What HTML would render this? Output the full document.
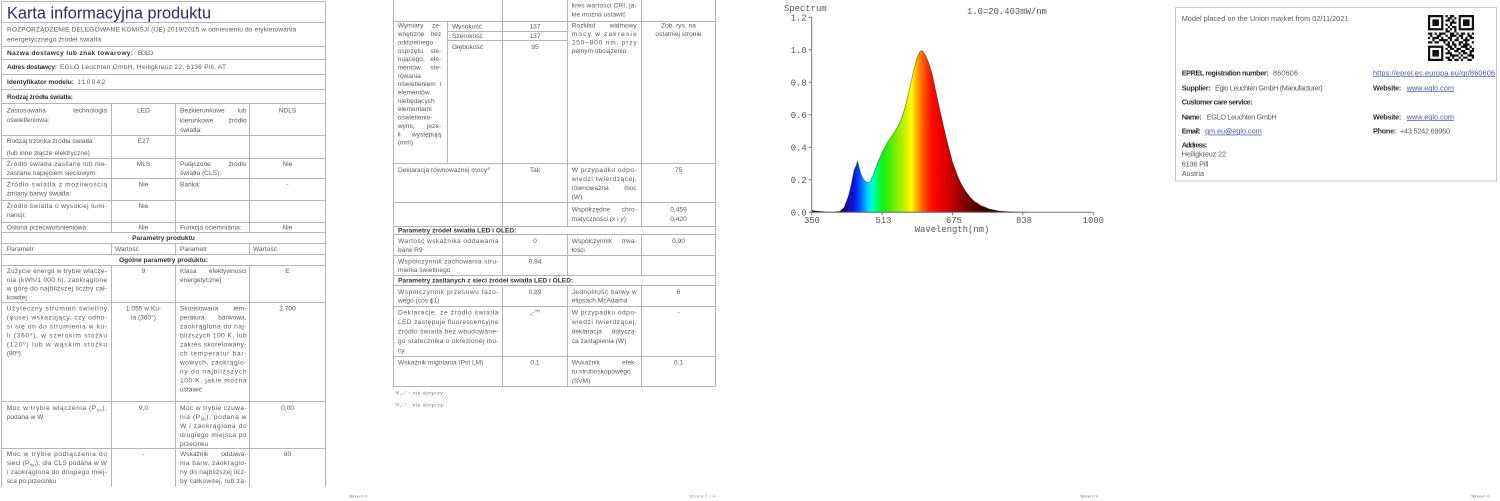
<!DOCTYPE html>
<html><head><meta charset="utf-8">
<style>
html,body{margin:0;padding:0;background:#fff;}
body{width:1500px;height:501px;overflow:hidden;}
svg{display:block;}
.n{font-family:"Liberation Sans",sans-serif;font-size:6.6px;fill:#5a5a5a;}
.b{font-family:"Liberation Sans",sans-serif;font-size:6.6px;fill:#333;font-weight:bold;}
.c{text-anchor:middle;}
.e{text-anchor:end;}
.m{font-family:"Liberation Mono",monospace;font-size:8.9px;fill:#555;}
.q{font-family:"Liberation Sans",sans-serif;font-size:7.3px;fill:#5a5a5a;}
.qb{font-family:"Liberation Sans",sans-serif;font-size:7.3px;fill:#333;font-weight:bold;}
.lk{fill:#4a55a0;text-decoration:underline;}
.s{font-family:"Liberation Sans",sans-serif;font-size:4px;fill:#777;}
.ln{stroke:#b5b5b5;stroke-width:1;fill:none;}
</style></head>
<body>
<svg width="1500" height="501" viewBox="0 0 1500 501" xmlns="http://www.w3.org/2000/svg">
<defs>
<linearGradient id="sp" gradientUnits="userSpaceOnUse" x1="811.7" y1="0" x2="1093.3" y2="0">
<stop offset="0.0769" stop-color="#0c0020"/>
<stop offset="0.1077" stop-color="#1c0066"/>
<stop offset="0.1308" stop-color="#1a0fa8"/>
<stop offset="0.1508" stop-color="#0818de"/>
<stop offset="0.1662" stop-color="#0040ff"/>
<stop offset="0.1846" stop-color="#0090ff"/>
<stop offset="0.2" stop-color="#00d8ff"/>
<stop offset="0.2154" stop-color="#00ffd0"/>
<stop offset="0.2308" stop-color="#00ff70"/>
<stop offset="0.2492" stop-color="#10f020"/>
<stop offset="0.2769" stop-color="#40f000"/>
<stop offset="0.3077" stop-color="#90f000"/>
<stop offset="0.3308" stop-color="#c8f000"/>
<stop offset="0.3538" stop-color="#ffff00"/>
<stop offset="0.3723" stop-color="#ffb000"/>
<stop offset="0.3892" stop-color="#ff7000"/>
<stop offset="0.4062" stop-color="#ff3c00"/>
<stop offset="0.4277" stop-color="#ff0a00"/>
<stop offset="0.4538" stop-color="#f40000"/>
<stop offset="0.4923" stop-color="#cc0000"/>
<stop offset="0.5308" stop-color="#960000"/>
<stop offset="0.5692" stop-color="#600000"/>
<stop offset="0.6154" stop-color="#380000"/>
<stop offset="0.6769" stop-color="#1c0000"/>
<stop offset="0.7692" stop-color="#0c0000"/>
</linearGradient>
</defs>

<!-- ============ PAGE 1 LINES ============ -->
<path class="ln" d="M1.5 1.5H325.5 M1.5 22.5H325.5 M1.5 46.5H325.5 M1.5 59.5H325.5 M1.5 74.5H325.5 M1.5 89.5H325.5 M1.5 103.5H325.5 M1.5 135.5H325.5 M1.5 158.5H325.5 M1.5 178.5H325.5 M1.5 200.5H325.5 M1.5 222.5H325.5 M1.5 232.5H325.5 M1.5 243.5H325.5 M1.5 254.5H325.5 M1.5 265.5H325.5 M1.5 302.5H325.5 M1.5 401.5H325.5 M1.5 448.5H325.5 M1.5 1.5V487 M325.5 1.5V487 M111.5 103.5V232.5 M175.5 103.5V232.5 M249.5 103.5V232.5 M111.5 243.5V254.5 M175.5 243.5V254.5 M249.5 243.5V254.5 M111.5 265.5V487 M175.5 265.5V487 M249.5 265.5V487"/>

<!-- ============ PAGE 1 TEXT ============ -->
<text x="7" y="18.5" style="font-family:'Liberation Sans',sans-serif;font-size:16.3px;fill:#2e2c5f;" textLength="204">Karta informacyjna produktu</text>
<text class="n" x="7" y="31.7" textLength="289">ROZPORZĄDZENIE DELEGOWANE KOMISJI (UE) 2019/2015 w odniesieniu do etykietowania</text>
<text class="n" x="7" y="41.7" textLength="94">energetycznego źródeł światła</text>
<text class="b" x="7" y="54.9" textLength="126">Nazwa dostawcy lub znak towarowy:</text>
<text class="n" x="137.7" y="54.9" textLength="15.6">EGLO</text>
<text class="b" x="7" y="68.9" textLength="50">Adres dostawcy:</text>
<text class="n" x="60" y="68.9" textLength="166">EGLO Leuchten GmbH, Heiligkreuz 22, 6136 Pill, AT</text>
<text class="b" x="7" y="83.9" textLength="67">Identyfikator modelu:</text>
<text class="n" x="77.3" y="83.9" textLength="28">110042</text>
<text class="b" x="7" y="98.9" textLength="66">Rodzaj źródła światła:</text>

<text class="n" x="6.7" y="112.7">Zastosowana</text><text class="n e" x="107" y="112.7">technologia</text>
<text class="n" x="6.7" y="122.2">oświetleniowa:</text>
<text class="n c" x="143.5" y="112.7">LED</text>
<text class="n" x="180" y="112.7">Bezkierunkowe</text><text class="n e" x="246.5" y="112.7">lub</text>
<text class="n" x="180" y="122.5">kierunkowe</text><text class="n e" x="246.5" y="122.5">źródło</text>
<text class="n" x="180" y="132.2">światła:</text>
<text class="n c" x="287.5" y="112.7">NDLS</text>

<text class="n" x="6.7" y="143.2">Rodzaj trzonka źródła światła</text>
<text class="n" x="6.7" y="155.2">(lub inne złącze elektryczne)</text>
<text class="n c" x="143.5" y="143.2">E27</text>

<text class="n" x="6.7" y="166.2" textLength="100.3" lengthAdjust="spacing">Źródło światła zasilane lub nie-</text>
<text class="n" x="6.7" y="175.2">zasilane napięciem sieciowym:</text>
<text class="n c" x="143.5" y="166.2">MLS</text>
<text class="n" x="180" y="166.2">Połączone</text><text class="n e" x="246.5" y="166.2">źródło</text>
<text class="n" x="180" y="175.2">światła (CLS):</text>
<text class="n c" x="287.5" y="166.2">Nie</text>

<text class="n" x="6.7" y="186.7" textLength="100.3" lengthAdjust="spacing">Źródło światła z możliwością</text>
<text class="n" x="6.7" y="195.7">zmiany barwy światła:</text>
<text class="n c" x="143.5" y="186.7">Nie</text>
<text class="n" x="180" y="186.7">Bańka:</text>
<text class="n c" x="287.5" y="186.7">-</text>

<text class="n" x="6.7" y="208.2" textLength="100.3" lengthAdjust="spacing">Źródło światła o wysokiej lumi-</text>
<text class="n" x="6.7" y="217.2">nancji:</text>
<text class="n c" x="143.5" y="208.2">Nie</text>

<text class="n" x="6.7" y="229.7">Osłona przeciwolśnieniowa:</text>
<text class="n c" x="143.5" y="229.7">Nie</text>
<text class="n" x="180" y="229.7">Funkcja ściemniania:</text>
<text class="n c" x="287.5" y="229.7">Nie</text>

<text class="b c" x="163.5" y="240.2">Parametry produktu</text>
<text class="n" x="6.7" y="251.2">Parametr</text>
<text class="n" x="115" y="251.2">Wartość</text>
<text class="n" x="180" y="251.2">Parametr</text>
<text class="n" x="253" y="251.2">Wartość</text>
<text class="b c" x="163.5" y="262.2">Ogólne parametry produktu:</text>

<text class="n" x="6.7" y="273.2" textLength="100.3" lengthAdjust="spacing">Zużycie energii w trybie włącze-</text>
<text class="n" x="6.7" y="281.9" textLength="100.3" lengthAdjust="spacing">nia (kWh/1 000 h), zaokrąglone</text>
<text class="n" x="6.7" y="290.6" textLength="100.3" lengthAdjust="spacing">w górę do najbliższej liczby cał-</text>
<text class="n" x="6.7" y="299.3">kowitej</text>
<text class="n c" x="143.5" y="273.2">9</text>
<text class="n" x="180" y="273.2">Klasa</text><text class="n e" x="246.5" y="273.2">efektywności</text>
<text class="n" x="180" y="282.2">energetycznej</text>
<text class="n c" x="287.5" y="273.2">E</text>

<text class="n" x="6.7" y="310.7" textLength="100.3" lengthAdjust="spacing">Użyteczny strumień świetlny</text>
<text class="n" x="6.7" y="319.7" textLength="100.3" lengthAdjust="spacing">(φuse) wskazujący, czy odno-</text>
<text class="n" x="6.7" y="328.7" textLength="100.3" lengthAdjust="spacing">si się on do strumienia w ku-</text>
<text class="n" x="6.7" y="337.7" textLength="100.3" lengthAdjust="spacing">li (360º), w szerokim stożku</text>
<text class="n" x="6.7" y="346.7" textLength="100.3" lengthAdjust="spacing">(120º) lub w wąskim stożku</text>
<text class="n" x="6.7" y="355.7">(90º)</text>
<text class="n c" x="143.5" y="310.7">1 055 w Ku-</text>
<text class="n c" x="143.5" y="319.7">la (360°)</text>
<text class="n" x="180" y="310.7">Skorelowana</text><text class="n e" x="246.5" y="310.7">tem-</text>
<text class="n" x="180" y="319.7">peratura</text><text class="n e" x="246.5" y="319.7">barwowa,</text>
<text class="n" x="180" y="328.7" textLength="66.5" lengthAdjust="spacing">zaokrąglona do naj-</text>
<text class="n" x="180" y="337.7" textLength="66.5" lengthAdjust="spacing">bliższych 100 K, lub</text>
<text class="n" x="180" y="346.7" textLength="66.5" lengthAdjust="spacing">zakres skorelowany-</text>
<text class="n" x="180" y="355.7" textLength="66.5" lengthAdjust="spacing">ch temperatur bar-</text>
<text class="n" x="180" y="364.7" textLength="66.5" lengthAdjust="spacing">wowych, zaokrąglo-</text>
<text class="n" x="180" y="373.7" textLength="66.5" lengthAdjust="spacing">ny do najbliższych</text>
<text class="n" x="180" y="382.7" textLength="66.5" lengthAdjust="spacing">100 K, jakie można</text>
<text class="n" x="180" y="391.7">ustawić</text>
<text class="n c" x="287.5" y="310.7">2 700</text>

<text class="n" x="6.7" y="410.2" textLength="100.3" lengthAdjust="spacing">Moc w trybie włączenia (P<tspan font-size="4.2" dy="1.2">on</tspan><tspan dy="-1.2">),</tspan></text>
<text class="n" x="6.7" y="419.2">podana w W</text>
<text class="n c" x="143.5" y="410.2">9,0</text>
<text class="n" x="180" y="410.2" textLength="66.5" lengthAdjust="spacing">Moc w trybie czuwa-</text>
<text class="n" x="180" y="419.2" textLength="66.5" lengthAdjust="spacing">nia (P<tspan font-size="4.2" dy="1.2">sb</tspan><tspan dy="-1.2">), podana w</tspan></text>
<text class="n" x="180" y="428.2" textLength="66.5" lengthAdjust="spacing">W i zaokrąglona do</text>
<text class="n" x="180" y="437.2" textLength="66.5" lengthAdjust="spacing">drugiego miejsca po</text>
<text class="n" x="180" y="446.2">przecinku</text>
<text class="n c" x="287.5" y="410.2">0,00</text>

<text class="n" x="6.7" y="456.2" textLength="100.3" lengthAdjust="spacing">Moc w trybie podłączenia do</text>
<text class="n" x="6.7" y="465.2" textLength="100.3" lengthAdjust="spacing">sieci (P<tspan font-size="4.2" dy="1.2">net</tspan><tspan dy="-1.2">), dla CLS podana w W</tspan></text>
<text class="n" x="6.7" y="474.2" textLength="100.3" lengthAdjust="spacing">i zaokrąglona do drugiego miej-</text>
<text class="n" x="6.7" y="483.2">sca po przecinku</text>
<text class="n c" x="143.5" y="456.2">-</text>
<text class="n" x="180" y="456.2">Wskaźnik</text><text class="n e" x="246.5" y="456.2">oddawa-</text>
<text class="n" x="180" y="465.2" textLength="66.5" lengthAdjust="spacing">nia barw, zaokrąglo-</text>
<text class="n" x="180" y="474.2" textLength="66.5" lengthAdjust="spacing">ny do najbliższej licz-</text>
<text class="n" x="180" y="483.2" textLength="66.5" lengthAdjust="spacing">by całkowitej, lub za-</text>
<text class="n c" x="287.5" y="456.2">80</text>

<text class="s" x="349" y="497.5" textLength="18">Strona 1 / 4</text>

<!-- ============ PAGE 2 LINES ============ -->
<path class="ln" d="M393.5 21.5H715.5 M393.5 163.5H715.5 M393.5 202.5H715.5 M393.5 226.5H715.5 M393.5 234.5H715.5 M393.5 255.5H715.5 M393.5 275.5H715.5 M393.5 285.5H715.5 M393.5 306.5H715.5 M393.5 356.5H715.5 M393.5 386.5H715.5 M447.5 31.5H567.5 M447.5 40.5H567.5 M393.5 0V386.5 M715.5 0V386.5 M447.5 21.5V163.5 M502.5 0V226.5 M567.5 0V226.5 M641.5 0V226.5 M502.5 234.5V275.5 M567.5 234.5V275.5 M641.5 234.5V275.5 M502.5 285.5V386.5 M567.5 285.5V386.5 M641.5 285.5V386.5"/>

<!-- ============ PAGE 2 TEXT ============ -->
<text class="n" x="571.7" y="7.7" textLength="65" lengthAdjust="spacing">kres wartości CRI, ja-</text>
<text class="n" x="571.7" y="16.7">kie można ustawić</text>

<text class="n" x="397.7" y="27.7">Wymiary</text><text class="n e" x="441.2" y="27.7">ze-</text>
<text class="n" x="397.7" y="36.05">wnętrzne</text><text class="n e" x="441.2" y="36.05">bez</text>
<text class="n" x="397.7" y="44.4">oddzielnego</text>
<text class="n" x="397.7" y="52.75">osprzętu</text><text class="n e" x="441.2" y="52.75">ste-</text>
<text class="n" x="397.7" y="61.1">rującego,</text><text class="n e" x="441.2" y="61.1">ele-</text>
<text class="n" x="397.7" y="69.45">mentów</text><text class="n e" x="441.2" y="69.45">ste-</text>
<text class="n" x="397.7" y="77.8">rowania</text>
<text class="n" x="397.7" y="86.15">oświetleniem</text><text class="n e" x="441.2" y="86.15">i</text>
<text class="n" x="397.7" y="94.5">elementów</text>
<text class="n" x="397.7" y="102.85">niebędących</text>
<text class="n" x="397.7" y="111.2">elementami</text>
<text class="n" x="397.7" y="119.55">oświetlenio-</text>
<text class="n" x="397.7" y="127.9">wymi,</text><text class="n e" x="441.2" y="127.9">jeże-</text>
<text class="n" x="397.7" y="136.25">li</text><text class="n e" x="441.2" y="136.25">występują</text>
<text class="n" x="397.7" y="144.6">(mm)</text>
<text class="n" x="452" y="28.7">Wysokość</text>
<text class="n" x="452" y="38.2">Szerokość</text>
<text class="n" x="452" y="49.2">Głębokość</text>
<text class="n c" x="535" y="28.7">137</text>
<text class="n c" x="535" y="38.2">137</text>
<text class="n c" x="535" y="49.2">95</text>
<text class="n" x="571.7" y="27.7">Rozkład</text><text class="n e" x="636.7" y="27.7">widmowy</text>
<text class="n" x="571.7" y="36.05" textLength="65" lengthAdjust="spacing">mocy w zakresie</text>
<text class="n" x="571.7" y="44.4" textLength="65" lengthAdjust="spacing">250–800 nm, przy</text>
<text class="n" x="571.7" y="52.75">pełnym obciążeniu</text>
<text class="n c" x="678.5" y="27.7">Zob. rys. na</text>
<text class="n c" x="678.5" y="36.05">ostatniej stronie</text>

<text class="n" x="398" y="172.2">Deklaracja równoważnej mocy<tspan font-size="3.6" dy="-2.5">a)</tspan></text>
<text class="n c" x="535" y="172.2">Tak</text>
<text class="n" x="571.7" y="172.2" textLength="65" lengthAdjust="spacing">W przypadku odpo-</text>
<text class="n" x="571.7" y="181.2" textLength="65" lengthAdjust="spacing">wiedzi twierdzącej,</text>
<text class="n" x="571.7" y="190.2">równoważna</text><text class="n e" x="636.7" y="190.2">moc</text>
<text class="n" x="571.7" y="199.2">(W)</text>
<text class="n c" x="678.5" y="172.2">75</text>

<text class="n" x="571.7" y="211.7">Współrzędne</text><text class="n e" x="636.7" y="211.7">chro-</text>
<text class="n" x="571.7" y="221.2">matyczności (x i y)</text>
<text class="n c" x="678.5" y="211.7">0,459</text>
<text class="n c" x="678.5" y="221.2">0,420</text>

<text class="b" x="398" y="232.7">Parametry źródeł światła LED i OLED:</text>

<text class="n" x="398" y="243.2" textLength="100.5" lengthAdjust="spacing">Wartość wskaźnika oddawania</text>
<text class="n" x="398" y="252.2">barw R9</text>
<text class="n c" x="535" y="243.2">0</text>
<text class="n" x="571.7" y="243.2">Współczynnik</text><text class="n e" x="636.7" y="243.2">trwa-</text>
<text class="n" x="571.7" y="252.2">łości</text>
<text class="n c" x="678.5" y="243.2">0,90</text>

<text class="n" x="398" y="263.7" textLength="100.5" lengthAdjust="spacing">Współczynnik zachowania stru-</text>
<text class="n" x="398" y="272.2">mienia świetlnego</text>
<text class="n c" x="535" y="263.7">0,94</text>

<text class="b" x="398" y="282.7">Parametry zasilanych z sieci źródeł światła LED i OLED:</text>

<text class="n" x="398" y="294.2" textLength="100.5" lengthAdjust="spacing">Współczynnik przesuwu fazo-</text>
<text class="n" x="398" y="302.7">wego (cos ϕ1)</text>
<text class="n c" x="535" y="294.2">0,89</text>
<text class="n" x="571.7" y="294.2" textLength="65" lengthAdjust="spacing">Jednolitość barwy w</text>
<text class="n" x="571.7" y="302.7">elipsach McAdama</text>
<text class="n c" x="678.5" y="294.2">6</text>

<text class="n" x="398" y="314.7" textLength="100.5" lengthAdjust="spacing">Deklaracje, że źródło światła</text>
<text class="n" x="398" y="324.2" textLength="100.5" lengthAdjust="spacing">LED zastępuje fluorescencyjne</text>
<text class="n" x="398" y="333.7" textLength="100.5" lengthAdjust="spacing">źródło światła bez wbudowane-</text>
<text class="n" x="398" y="343.2" textLength="100.5" lengthAdjust="spacing">go statecznika o określonej mo-</text>
<text class="n" x="398" y="352.7">cy</text>
<text class="n c" x="535" y="314.7">„-”<tspan font-size="3.6" dy="-2.5">b)</tspan></text>
<text class="n" x="571.7" y="314.7" textLength="65" lengthAdjust="spacing">W przypadku odpo-</text>
<text class="n" x="571.7" y="324.2" textLength="65" lengthAdjust="spacing">wiedzi twierdzącej,</text>
<text class="n" x="571.7" y="333.7">deklaracja</text><text class="n e" x="636.7" y="333.7">dotyczą-</text>
<text class="n" x="571.7" y="343.2">ca zastąpienia (W)</text>
<text class="n c" x="678.5" y="314.7">-</text>

<text class="n" x="398" y="364.7">Wskaźnik migotania (Pst LM)</text>
<text class="n c" x="535" y="364.7">0,1</text>
<text class="n" x="571.7" y="364.7">Wskaźnik</text><text class="n e" x="636.7" y="364.7">efek-</text>
<text class="n" x="571.7" y="373.7">tu stroboskopowego</text>
<text class="n" x="571.7" y="383.2">(SVM)</text>
<text class="n c" x="678.5" y="364.7">0,1</text>

<text class="n" x="395.5" y="393.5" style="font-size:4px">a)</text>
<text class="n" x="400.5" y="394.5" style="font-size:4.4px" textLength="44">„-” : nie dotyczy;</text>
<text class="n" x="395.5" y="405.5" style="font-size:4px">b)</text>
<text class="n" x="400.5" y="406.5" style="font-size:4.4px" textLength="44">„-” : nie dotyczy;</text>

<text class="s" x="689" y="497.5" textLength="26">Strona 2 / 4</text>

<!-- ============ PAGE 3 CHART ============ -->
<path fill="url(#sp)" stroke="#000" stroke-opacity="0.4" stroke-width="0.8" d="M811.7 212.3 L811.7 210.35 L816.03 211.0 L824.7 211.81 L833.36 211.98 L839.86 211.33 L844.19 207.43 L848.52 196.05 L851.56 183.05 L854.16 170.05 L856.32 165.2 L857.62 160.9 L858.9 166.8 L860.66 173.3 L862.82 178.2 L864.99 181.1 L867.58 182.56 L870.18 181.43 L873.21 174.93 L876.68 165.18 L880.15 157.05 L883.18 150.55 L887.52 142.43 L891.85 135.93 L896.18 129.43 L900.51 121.3 L904.84 108.3 L909.18 90.43 L913.51 70.93 L916.97 57.93 L920.0 51.43 L922.17 50.61 L925.2 54.68 L928.67 62.8 L932.14 74.18 L935.6 90.43 L939.5 108.3 L943.83 127.8 L948.17 145.68 L952.5 161.93 L956.83 174.11 L961.16 183.86 L965.5 191.18 L969.83 196.86 L974.16 201.25 L980.66 205.48 L989.32 209.05 L997.99 210.84 L1006.65 211.65 L1019.65 212.14 L1028.3 212.3 Z"/>
<path stroke="#777" stroke-width="1" fill="none" d="M811.7 17.3V212.3H1093.3 M808.7 17.3H811.7 M808.7 49.8H811.7 M808.7 82.3H811.7 M808.7 114.8H811.7 M808.7 147.3H811.7 M808.7 179.8H811.7 M808.7 212.3H811.7 M811.7 212.3V215.3 M882.1 212.3V215.3 M952.5 212.3V215.3 M1022.9 212.3V215.3 M1093.3 212.3V215.3"/>
<text class="m" x="784" y="11">Spectrum</text>
<text class="m" x="967" y="14">1.0=20.403mW/nm</text>
<text class="m e" x="806.7" y="20.3">1.2</text>
<text class="m e" x="806.7" y="52.8">1.0</text>
<text class="m e" x="806.7" y="85.3">0.8</text>
<text class="m e" x="806.7" y="117.8">0.6</text>
<text class="m e" x="806.7" y="150.3">0.4</text>
<text class="m e" x="806.7" y="182.8">0.2</text>
<text class="m e" x="806.7" y="215.3">0.0</text>
<text class="m c" x="812" y="223">350</text>
<text class="m c" x="883.5" y="223">513</text>
<text class="m c" x="954" y="223">675</text>
<text class="m c" x="1024" y="223">838</text>
<text class="m c" x="1093.3" y="223">1000</text>
<text class="m c" x="952" y="232">Wavelength(nm)</text>

<text class="s" x="1080" y="497.5" textLength="18">Strona 3 / 4</text>

<!-- ============ PAGE 4 ============ -->
<rect x="1175.5" y="7.5" width="321" height="173.5" fill="none" stroke="#c8c8c8" stroke-width="1"/>
<g transform="translate(1428,15) scale(2.19)" fill="#111">
<path fill-rule="evenodd" d="M0 0h7v7h-7z M1 1v5h5v-5z M2 2h3v3h-3z M14 0h7v7h-7z M15 1v5h5v-5z M16 2h3v3h-3z M0 14h7v7h-7z M1 15v5h5v-5z M2 16h3v3h-3z"/>
<path d="M8 0h1v1h-1z M10 0h2v1h-2z M9 1h2v1h-2z M12 1h1v1h-1z M8 2h2v1h-2z M11 2h1v1h-1z M10 3h3v1h-3z M8 4h1v1h-1z M10 4h1v1h-1z M9 5h1v1h-1z M11 5h2v1h-2z M8 6h1v1h-1z M10 6h1v1h-1z M12 6h1v1h-1z M8 7h2v1h-2z M12 7h1v1h-1z M0 8h2v1h-2z M3 8h1v1h-1z M5 8h3v1h-3z M10 8h2v1h-2z M13 8h1v1h-1z M15 8h2v1h-2z M18 8h1v1h-1z M20 8h1v1h-1z M1 9h1v1h-1z M4 9h2v1h-2z M8 9h1v1h-1z M10 9h3v1h-3z M14 9h2v1h-2z M18 9h2v1h-2z M0 10h1v1h-1z M2 10h3v1h-3z M6 10h1v1h-1z M9 10h2v1h-2z M13 10h1v1h-1z M15 10h1v1h-1z M17 10h1v1h-1z M19 10h2v1h-2z M2 11h1v1h-1z M5 11h4v1h-4z M10 11h1v1h-1z M12 11h2v1h-2z M16 11h3v1h-3z M0 12h2v1h-2z M3 12h2v1h-2z M7 12h1v1h-1z M9 12h1v1h-1z M11 12h1v1h-1z M14 12h2v1h-2z M17 12h1v1h-1z M20 12h1v1h-1z M8 13h2v1h-2z M11 13h2v1h-2z M14 13h1v1h-1z M16 13h3v1h-3z M9 14h2v1h-2z M12 14h1v1h-1z M15 14h3v1h-3z M19 14h1v1h-1z M8 15h1v1h-1z M10 15h2v1h-2z M13 15h2v1h-2z M17 15h2v1h-2z M20 15h1v1h-1z M9 16h1v1h-1z M12 16h2v1h-2z M15 16h2v1h-2z M19 16h2v1h-2z M8 17h3v1h-3z M14 17h1v1h-1z M16 17h2v1h-2z M19 17h1v1h-1z M10 18h4v1h-4z M15 18h1v1h-1z M18 18h3v1h-3z M8 19h2v1h-2z M11 19h1v1h-1z M14 19h1v1h-1z M16 19h2v1h-2z M20 19h1v1h-1z M9 20h2v1h-2z M12 20h2v1h-2z M15 20h1v1h-1z M18 20h2v1h-2z"/>
</g>
<text class="q" x="1181.7" y="20.9" textLength="166.7">Model placed on the Union market from 02/11/2021</text>
<text class="qb" x="1181.7" y="75.3" textLength="87">EPREL registration number:</text>
<text class="q" x="1273" y="75.3" textLength="25">860606</text>
<text class="q lk" x="1373" y="75.3" textLength="122">https://eprel.ec.europa.eu/qr/860606</text>
<text class="qb" x="1181.7" y="90.3" textLength="29">Supplier:</text>
<text class="q" x="1215" y="90.3" textLength="107.7">Eglo Leuchten GmbH (Manufacturer)</text>
<text class="qb" x="1373" y="90.3" textLength="28.3">Website:</text>
<text class="q lk" x="1406.7" y="90.3" textLength="47.3">www.eglo.com</text>
<text class="qb" x="1181.7" y="104.3" textLength="71">Customer care service:</text>
<text class="qb" x="1181.7" y="119.3" textLength="20">Name:</text>
<text class="q" x="1206.7" y="119.3" textLength="70">EGLO Leuchten GmbH</text>
<text class="qb" x="1373" y="119.3" textLength="28.3">Website:</text>
<text class="q lk" x="1406.7" y="119.3" textLength="47.3">www.eglo.com</text>
<text class="qb" x="1181.7" y="133.6" textLength="19">Email:</text>
<text class="q lk" x="1205" y="133.6" textLength="56.7">qm.eu@eglo.com</text>
<text class="qb" x="1373" y="133.6" textLength="23.3">Phone:</text>
<text class="q" x="1400" y="133.6" textLength="50">+43 5242 69960</text>
<text class="qb" x="1181.7" y="147.6" textLength="25.7">Address:</text>
<text class="q" x="1181.7" y="156.6" textLength="44.3">Heiligkreuz 22</text>
<text class="q" x="1181.7" y="166.6" textLength="26.7">6136 Pill</text>
<text class="q" x="1181.7" y="175.9" textLength="22.3">Austria</text>

<text class="s" x="1471" y="497.5" textLength="18">Strona 4 / 4</text>
</svg>
</body></html>
